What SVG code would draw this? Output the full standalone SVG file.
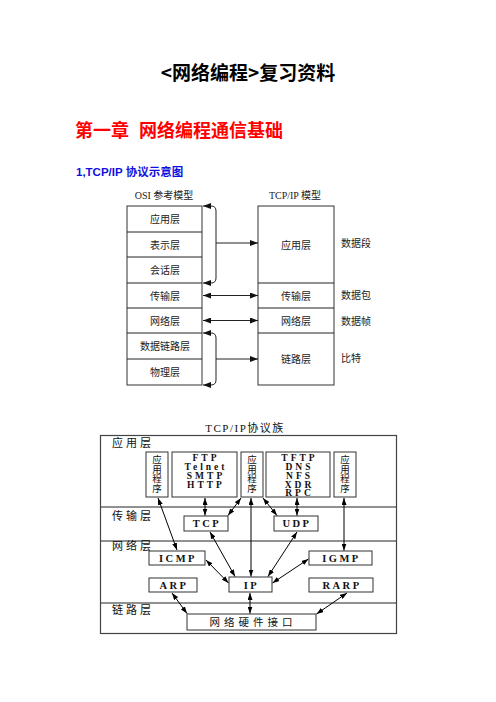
<svg xmlns="http://www.w3.org/2000/svg" width="496" height="702" viewBox="0 0 496 702">
<style>
.h1{font-family:"Noto Sans CJK SC","Noto Sans",sans-serif;font-weight:bold;font-size:19px;fill:#000}
.h2{font-family:"Noto Sans CJK SC","Noto Sans",sans-serif;font-weight:bold;font-size:18px;fill:#ff0000}
.h3{font-family:"Liberation Sans","Noto Sans CJK SC",sans-serif;font-weight:bold;font-size:11.5px;fill:#1010e0}
.t{font-family:"Liberation Serif","Noto Sans CJK SC",serif;font-size:10px;fill:#222}
.box{fill:#fff;stroke:#333;stroke-width:1}
.ln{stroke:#222;stroke-width:1;fill:none}
.sp{font-family:"Liberation Serif","Noto Sans CJK SC",serif;font-size:10.5px;font-weight:bold;fill:#111;letter-spacing:2.5px}
.sm{font-size:9.5px;letter-spacing:3px}
.lay{font-family:"Noto Sans CJK SC",sans-serif;font-size:11px;fill:#111;letter-spacing:3px}
.v{font-family:"Noto Sans CJK SC",sans-serif;font-size:9.5px;fill:#111;writing-mode:vertical-rl}
.m{text-anchor:middle}
</style>
<defs>
<marker id="a1" viewBox="0 0 8 6" refX="8" refY="3" markerWidth="8" markerHeight="6" markerUnits="userSpaceOnUse" orient="auto-start-reverse">
<path d="M0,0 L8,3 L0,6 Z" fill="#111"/>
</marker>
<marker id="a2" viewBox="0 0 7 5" refX="7" refY="2.5" markerWidth="7" markerHeight="5" markerUnits="userSpaceOnUse" orient="auto-start-reverse">
<path d="M0,0 L7,2.5 L0,5 Z" fill="#000"/>
</marker>
</defs>
<rect width="496" height="702" fill="#fff"/>

<g id="headings">
<text class="h1 m" x="248" y="80">&lt;网络编程&gt;复习资料</text>
<text class="h2" y="137"><tspan x="75">第一章</tspan><tspan x="139">网络编程通信基础</tspan></text>
<text class="h3" x="76" y="176">1,TCP/IP 协议示意图</text>
</g>

<!-- Diagram 1 -->
<g id="osi-model">
<text class="t m" x="164" y="198.5">OSI 参考模型</text>
<rect class="box" x="127" y="206" width="75" height="179"/>
<path class="ln" d="M127 232H202M127 257H202M127 283H202M127 308H202M127 333H202M127 359H202"/>
<text class="t m" x="165" y="223">应用层</text>
<text class="t m" x="165" y="248.5">表示层</text>
<text class="t m" x="165" y="274">会话层</text>
<text class="t m" x="165" y="299.5">传输层</text>
<text class="t m" x="165" y="324.5">网络层</text>
<text class="t m" x="165" y="350">数据链路层</text>
<text class="t m" x="165" y="376">物理层</text>
</g>
<g id="tcpip-model">
<text class="t m" x="295" y="198.5">TCP/IP 模型</text>
<rect class="box" x="258" y="206" width="76" height="179"/>
<path class="ln" d="M258 283H334M258 308H334M258 333H334"/>
<text class="t m" x="296" y="248.5">应用层</text>
<text class="t m" x="296" y="299.5">传输层</text>
<text class="t m" x="296" y="324.5">网络层</text>
<text class="t m" x="296" y="363">链路层</text>
</g>
<g id="data-units">
<text class="t" x="341" y="247">数据段</text>
<text class="t" x="341" y="299">数据包</text>
<text class="t" x="341" y="325">数据帧</text>
<text class="t" x="341" y="362">比特</text>
</g>
<g id="connectors-1">
<path class="ln" d="M203 206H211Q216 206 216 211V278Q216 283 211 283H203" marker-start="url(#a1)" marker-end="url(#a1)"/>
<path class="ln" d="M216 243H258" marker-end="url(#a1)"/>
<path class="ln" d="M203 295.5H258" marker-start="url(#a1)" marker-end="url(#a1)"/>
<path class="ln" d="M203 320.5H258" marker-start="url(#a1)" marker-end="url(#a1)"/>
<path class="ln" d="M203 333H211Q216 333 216 338V380Q216 385 211 385H203" marker-start="url(#a1)" marker-end="url(#a1)"/>
<path class="ln" d="M216 359H258" marker-end="url(#a1)"/>
</g>

<!-- Diagram 2 -->
<g id="suite-frame">
<text class="sp m" x="245" y="431.5" style="font-size:11px;font-weight:normal;letter-spacing:1.5px">TCP/IP协议族</text>
<rect x="100.5" y="435.5" width="296" height="198" fill="#fff" stroke="#444" stroke-width="1.2"/>
<path class="ln" d="M101 507H396M101 541H396M101 603H396"/>
<text class="lay" x="112" y="447">应用层</text>
<text class="lay" x="112" y="520">传输层</text>
<text class="lay" x="112" y="550">网络层</text>
<text class="lay" x="112" y="614">链路层</text>
</g>
<g id="app1">
<rect class="box" x="146" y="452" width="22" height="45"/>
<text class="v" x="157" y="455">应用程序</text>
</g>
<g id="ftp">
<rect class="box" x="172" y="452" width="65" height="45"/>
<text class="sp sm m"><tspan x="206" y="460.5">FTP</tspan><tspan x="206" y="469.5">Telnet</tspan><tspan x="206" y="478.5">SMTP</tspan><tspan x="206" y="487.5">HTTP</tspan></text>
</g>
<g id="app2">
<rect class="box" x="241" y="452" width="22" height="45"/>
<text class="v" x="252" y="455">应用程序</text>
</g>
<g id="tftp">
<rect class="box" x="266" y="452" width="64" height="45"/>
<text class="sp sm m"><tspan x="299.5" y="460.5">TFTP</tspan><tspan x="299.5" y="469.5">DNS</tspan><tspan x="299.5" y="478.5">NFS</tspan><tspan x="299.5" y="487.5">XDR</tspan><tspan x="299.5" y="496">RPC</tspan></text>
</g>
<g id="app3">
<rect class="box" x="334" y="452" width="22" height="45"/>
<text class="v" x="345" y="455">应用程序</text>
</g>
<g id="tcp">
<rect class="box" x="184" y="516" width="44" height="15"/>
<text class="sp m" x="207" y="527">TCP</text>
</g>
<g id="udp">
<rect class="box" x="274" y="516" width="44" height="15"/>
<text class="sp m" x="297" y="527">UDP</text>
</g>
<g id="icmp">
<rect class="box" x="149" y="551" width="56" height="14"/>
<text class="sp m" x="178" y="561.5">ICMP</text>
</g>
<g id="igmp">
<rect class="box" x="309" y="551" width="63" height="14"/>
<text class="sp m" x="341.5" y="561.5">IGMP</text>
</g>
<g id="arp">
<rect class="box" x="149" y="578" width="48" height="14"/>
<text class="sp m" x="174" y="588.5">ARP</text>
</g>
<g id="ip">
<rect class="box" x="229" y="577" width="43" height="15"/>
<text class="sp m" x="251.5" y="588.5">IP</text>
</g>
<g id="rarp">
<rect class="box" x="309" y="578" width="64" height="14"/>
<text class="sp m" x="342" y="588.5">RARP</text>
</g>
<g id="hw">
<rect class="box" x="187" y="614" width="129" height="16"/>
<text class="lay m" x="253" y="626" style="font-size:10.5px;letter-spacing:4px">网络硬件接口</text>
</g>
<g id="connectors-2" stroke="#000" stroke-width="1" fill="none">
<line x1="158" y1="498" x2="177" y2="550" marker-start="url(#a2)" marker-end="url(#a2)"/>
<line x1="205" y1="498" x2="205" y2="515.5" marker-start="url(#a2)" marker-end="url(#a2)"/>
<line x1="241" y1="498" x2="228" y2="515.5" marker-start="url(#a2)" marker-end="url(#a2)"/>
<line x1="251" y1="498" x2="251" y2="576.5" marker-start="url(#a2)" marker-end="url(#a2)"/>
<line x1="263" y1="498" x2="277" y2="515.5" marker-start="url(#a2)" marker-end="url(#a2)"/>
<line x1="297" y1="498" x2="297" y2="515.5" marker-start="url(#a2)" marker-end="url(#a2)"/>
<line x1="344" y1="498" x2="344" y2="550.5" marker-start="url(#a2)" marker-end="url(#a2)"/>
<line x1="210" y1="532" x2="235" y2="576.5" marker-start="url(#a2)" marker-end="url(#a2)"/>
<line x1="297" y1="532" x2="268" y2="576.5" marker-start="url(#a2)" marker-end="url(#a2)"/>
<line x1="206" y1="560" x2="228.5" y2="583" marker-start="url(#a2)" marker-end="url(#a2)"/>
<line x1="308.5" y1="559" x2="272.5" y2="583" marker-start="url(#a2)" marker-end="url(#a2)"/>
<line x1="172" y1="593" x2="187" y2="613.5" marker-start="url(#a2)" marker-end="url(#a2)"/>
<line x1="250" y1="593" x2="250" y2="613.5" marker-start="url(#a2)" marker-end="url(#a2)"/>
<line x1="347" y1="593" x2="316.5" y2="614" marker-start="url(#a2)" marker-end="url(#a2)"/>
</g>
</svg>
